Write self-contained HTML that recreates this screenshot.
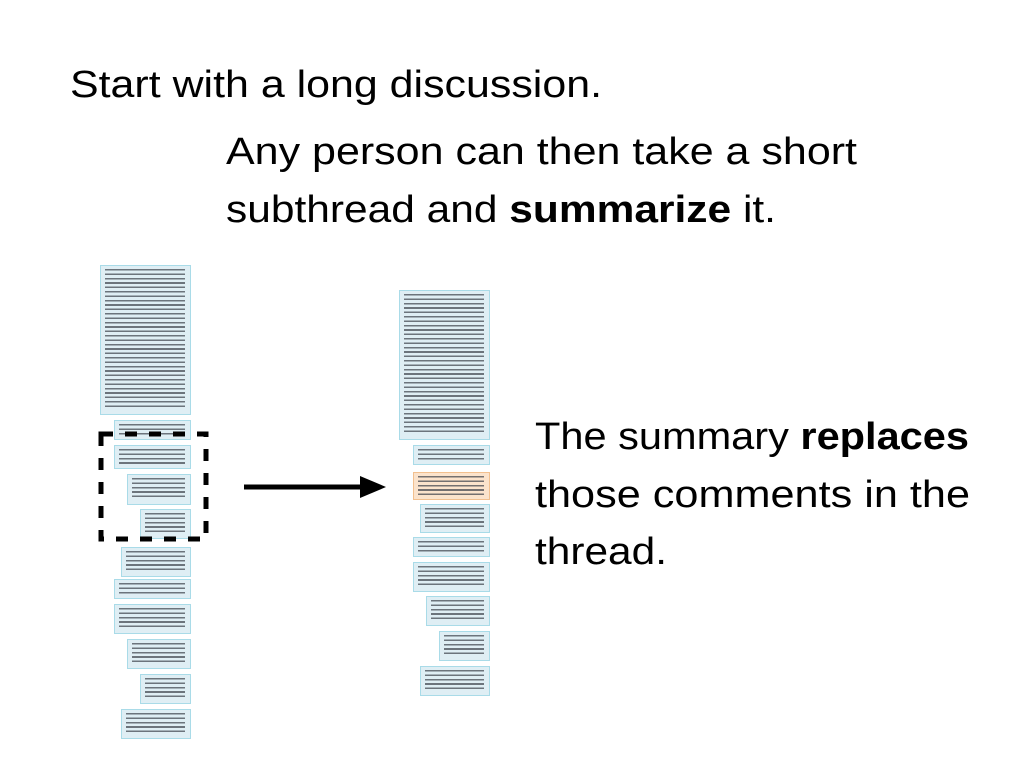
<!DOCTYPE html>
<html><head><meta charset="utf-8"><style>
html,body{margin:0;padding:0;background:#fff;}
body{width:1024px;height:768px;position:relative;overflow:hidden;}
.b{position:absolute;box-sizing:border-box;background:#dfeef4;border:1px solid #a9dbe8;}
.b::after{content:"";position:absolute;left:4px;right:5px;top:3px;bottom:4px;
background:repeating-linear-gradient(to bottom,#3a3f48 0 1.6px,transparent 1.6px 4.4px);opacity:.7;}
.o{background:#fbe3cc;border-color:#f2c08f;}
svg{position:absolute;left:0;top:0;}
text{font-family:"Liberation Sans",sans-serif;font-size:38px;fill:#000;}
</style></head><body>
<div class="b" style="left:100px;top:265px;width:91px;height:150px"></div>
<div class="b" style="left:114px;top:420px;width:77px;height:20px"></div>
<div class="b" style="left:114px;top:445px;width:77px;height:24px"></div>
<div class="b" style="left:127px;top:474px;width:64px;height:31px"></div>
<div class="b" style="left:140px;top:509px;width:51px;height:30px"></div>
<div class="b" style="left:121px;top:547px;width:70px;height:30px"></div>
<div class="b" style="left:114px;top:579px;width:77px;height:20px"></div>
<div class="b" style="left:114px;top:604px;width:77px;height:30px"></div>
<div class="b" style="left:127px;top:639px;width:64px;height:30px"></div>
<div class="b" style="left:140px;top:674px;width:51px;height:30px"></div>
<div class="b" style="left:121px;top:709px;width:70px;height:30px"></div>
<div class="b" style="left:399px;top:290px;width:91px;height:150px"></div>
<div class="b" style="left:413px;top:445px;width:77px;height:20px"></div>
<div class="b o" style="left:413px;top:472px;width:77px;height:28px"></div>
<div class="b" style="left:420px;top:504px;width:70px;height:29px"></div>
<div class="b" style="left:413px;top:537px;width:77px;height:20px"></div>
<div class="b" style="left:413px;top:562px;width:77px;height:30px"></div>
<div class="b" style="left:426px;top:596px;width:64px;height:30px"></div>
<div class="b" style="left:439px;top:631px;width:51px;height:30px"></div>
<div class="b" style="left:420px;top:666px;width:70px;height:30px"></div>
<svg width="1024" height="768">
<rect x="101" y="434" width="105" height="105" fill="none" stroke="#000" stroke-width="5" stroke-dasharray="12,12"/>
<line x1="244" y1="487" x2="362" y2="487" stroke="#000" stroke-width="5"/>
<polygon points="360,476 386,487 360,498" fill="#000"/>
<text x="70" y="97" textLength="532" lengthAdjust="spacingAndGlyphs">Start with a long discussion.</text>
<text x="226" y="164" textLength="631" lengthAdjust="spacingAndGlyphs">Any person can then take a short</text>
<text x="226" y="222" textLength="550" lengthAdjust="spacingAndGlyphs">subthread and <tspan font-weight="bold">summarize</tspan> it.</text>
<text x="535" y="449" textLength="434" lengthAdjust="spacingAndGlyphs">The summary <tspan font-weight="bold">replaces</tspan></text>
<text x="535" y="507" textLength="435" lengthAdjust="spacingAndGlyphs">those comments in the</text>
<text x="535" y="564" textLength="132" lengthAdjust="spacingAndGlyphs">thread.</text>
</svg>
</body></html>
